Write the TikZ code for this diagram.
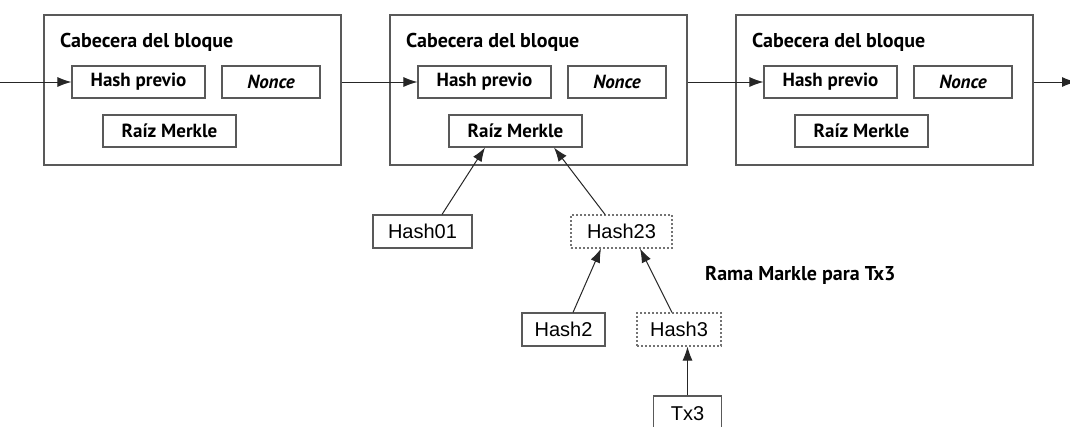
\documentclass[tikz,border=0pt]{standalone}
\usepackage{fontspec}
\setmainfont{Liberation Sans}
\newfontfamily\blockfont{PT Sans}
\usetikzlibrary{arrows.meta}
\begin{document}
\begin{tikzpicture}[x=1pt,y=-1pt,
  frame/.style={draw=black!65, line width=1.1pt, inner sep=0pt},
  blockbox/.style={frame, minimum width=297pt, minimum height=150pt},
  fieldbox/.style={frame, minimum height=32pt,
    font=\blockfont\bfseries\fontsize{19}{19}\selectfont},
  title/.style={anchor=west, inner sep=0pt,
    font=\blockfont\bfseries\fontsize{20}{20}\selectfont},
  hashbox/.style={frame, minimum height=33pt, font=\fontsize{20}{20}\selectfont},
  pathbox/.style={hashbox, draw=black!55, dash pattern=on 2pt off 2pt},
  arr/.style={draw=black!85, line width=1pt, -{Latex[length=14pt,width=10pt]}}
]
\useasboundingbox (0,0) rectangle (1070,426);
\fill[white] (0,0) rectangle (1070,426);

% three block headers, 346pt apart
\foreach \i/\L in {1/44, 2/390, 3/736} {
  \node[blockbox] (b\i) at (\L+148.5, 90) {};
  \node[title] (t\i) at (\L+16, 42) {Cabecera del bloque};
  \node[fieldbox, minimum width=133pt] (hp\i) at (\L+94.5, 82) {Hash previo};
  \node[fieldbox, minimum width=98pt] (n\i) at (\L+227, 82) {\itshape Nonce};
  \node[fieldbox, minimum width=133pt] (r\i) at (\L+125.5, 131) {Raíz Merkle};
}

% chain links
\coordinate (in) at (0,82);
\coordinate (out) at (1076,82);
\draw[arr] (in) -- (hp1.west);
\draw[arr] (b1.east |- hp2.west) -- (hp2.west);
\draw[arr] (b2.east |- hp3.west) -- (hp3.west);
\draw[arr] (b3.east |- out) -- (out);

% Merkle branch below the middle block
\node[hashbox, minimum width=99pt] (h01) at (422.5, 231.5) {Hash01};
\node[pathbox, minimum width=101pt] (h23) at (621.5, 231.5) {Hash23};
\node[hashbox, minimum width=83pt] (h2) at (563.5, 329.5) {Hash2};
\node[pathbox, minimum width=84pt] (h3) at (679, 329.5) {Hash3};
\node[hashbox, minimum width=68pt, minimum height=36pt] (tx3) at (687.5, 414) {Tx3};
\node[title] (lbl) at (705, 275) {Rama Markle para Tx3};

\draw[arr] ([xshift=19.5pt]h01.north) -- ([xshift=-30.5pt]r2.south);
\draw[arr] ([xshift=-16.5pt]h23.north) -- ([xshift=38.5pt]r2.south);
\draw[arr] ([xshift=9.5pt]h2.north) -- ([xshift=-20.5pt]h23.south);
\draw[arr] ([xshift=-7pt]h3.north) -- ([xshift=18.5pt]h23.south);
\draw[arr] ([xshift=8.5pt]h3.south |- tx3.north) -- ([xshift=8.5pt]h3.south);
\end{tikzpicture}
\end{document}
